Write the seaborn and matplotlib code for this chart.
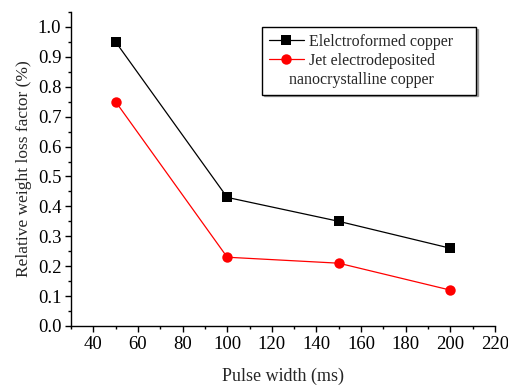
import matplotlib
matplotlib.use("Agg")
import matplotlib.pyplot as plt
import seaborn as sns
import pandas as pd
from matplotlib.lines import Line2D
from matplotlib.ticker import MultipleLocator

pulse_width = [50, 100, 150, 200]
electroformed = [0.95, 0.43, 0.35, 0.26]
jet_nano = [0.75, 0.23, 0.21, 0.12]
series_names = ["Elelctroformed copper", "Jet electrodeposited"]
x_ticks = [40, 60, 80, 100, 120, 140, 160, 180, 200, 220]
y_ticks = [0.0, 0.1, 0.2, 0.3, 0.4, 0.5, 0.6, 0.7, 0.8, 0.9, 1.0]

df = pd.DataFrame({
    "x": pulse_width * 2,
    "y": electroformed + jet_nano,
    "s": [series_names[0]] * 4 + [series_names[1]] * 4,
})

sns.set_style("ticks")
plt.rcParams["font.family"] = ["Liberation Serif", "DejaVu Serif"]

fig = plt.figure(figsize=(5.08, 3.85), dpi=100)
ax = fig.add_axes([71/508, 1-326/385, (495-71)/508, (326-12)/385])

palette = {series_names[0]: "black", series_names[1]: "red"}
markers = {series_names[0]: "s", series_names[1]: "o"}
sizes = {series_names[0]: 6.5, series_names[1]: 7.5}
for name in series_names:
    sub = df[df["s"] == name]
    sns.lineplot(data=sub, x="x", y="y", color=palette[name], marker=markers[name],
                 markersize=sizes[name], markeredgewidth=0, linewidth=0.9, ax=ax, legend=False)

ax.set_xlim(30, 220)
ax.set_ylim(0, 1.05)
ax.set_xticks(x_ticks)
ax.set_yticks(y_ticks)
ax.set_yticklabels([f"{v:.1f}" for v in y_ticks])
ax.xaxis.set_minor_locator(MultipleLocator(10))
ax.yaxis.set_minor_locator(MultipleLocator(0.05))
for s in ["top", "right"]:
    ax.spines[s].set_visible(False)
for s in ["left", "bottom"]:
    ax.spines[s].set_linewidth(1.0)
    ax.spines[s].set_color("black")
ax.tick_params(which="major", direction="out", length=4, width=1, labelsize=13.5, colors="black", pad=3)
ax.tick_params(which="minor", direction="out", length=2.5, width=1, colors="black")
ax.set_xlabel("Pulse width (ms)", fontsize=13, labelpad=11)
ax.set_ylabel("Relative weight loss factor (%)", fontsize=12.5, labelpad=4)

handles = [
    Line2D([], [], color="black", marker="s", markersize=6.5, markeredgewidth=0, linewidth=0.9),
    Line2D([], [], color="red", marker="o", markersize=7.5, markeredgewidth=0, linewidth=0.9),
    Line2D([], [], color="none", linewidth=0),
]
labels = [series_names[0] + "    ", series_names[1], "nanocrystalline copper"]
leg = ax.legend(handles, labels, loc="upper left", bbox_to_anchor=((262-71)/424, 1-(27-12)/314),
                fontsize=11.5, frameon=True, fancybox=False,
                shadow={"ox": 1.2, "oy": -1.2, "color": "0.35"}, edgecolor="black",
                handlelength=2.2, handletextpad=0.35, labelspacing=0.2, borderpad=0.42,
                borderaxespad=0)
leg.get_frame().set_linewidth(1.0)
leg.get_frame().set_alpha(1.0)
leg.get_texts()[2].set_x(-20)

fig.savefig("out.png", dpi=100)
